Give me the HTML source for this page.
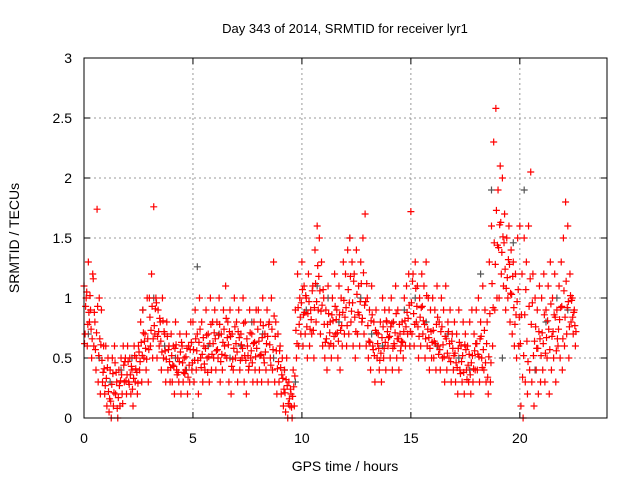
<!DOCTYPE html>
<html><head><meta charset="utf-8"><style>
body{margin:0;background:#fff}
svg{display:block;font-family:"Liberation Sans",sans-serif}
</style></head><body>
<svg id="chart" width="640" height="480">
<rect width="640" height="480" fill="#fff"/>
<text x="345" y="33" font-size="13" text-anchor="middle">Day 343 of 2014, SRMTID for receiver lyr1</text>
<text x="345" y="471" font-size="14" text-anchor="middle">GPS time / hours</text>
<text transform="translate(19,238) rotate(-90)" font-size="14" text-anchor="middle">SRMTID / TECUs</text>
<g id="grid"></g><g id="ticks"></g><g id="pts"></g>
<rect x="84" y="58" width="523" height="360" fill="none" stroke="#000"/>
</svg>
<script>
const xTicks=[0,5,10,15,20];
const yTicks=[0,0.5,1,1.5,2,2.5,3];
const yTickLabels=["0","0.5","1","1.5","2","2.5","3"];
const redStep=0.1;
const redHigh=[1.1,1.0,1.3,0.9,1.2,0.8,1.74,1.0,0.9,0.6,
0.6,0.5,0.4,0.5,0.6,0.3,0.4,0.5,0.6,0.5,
0.6,0.5,0.4,0.6,0.5,0.6,0.8,0.9,0.7,1.0,
1.0,1.2,1.76,1.0,0.9,0.8,1.0,0.7,0.8,0.6,
0.7,0.6,0.8,0.5,0.7,0.6,0.5,0.7,0.6,0.8,
0.8,0.9,0.7,1.0,0.8,0.6,0.9,0.7,1.0,0.8,
0.9,0.8,1.0,0.7,0.9,1.1,0.8,0.9,0.7,1.0,
0.8,0.9,0.7,1.0,0.8,0.6,0.9,0.7,0.8,0.9,
0.9,0.8,1.0,0.7,0.9,0.8,1.0,1.3,0.8,0.7,
0.6,0.5,0.4,0.5,0.3,0.2,0.4,0.9,1.2,1.0,
1.3,1.1,1.0,1.2,0.9,1.1,1.4,1.6,1.5,1.3,
1.0,0.9,1.1,0.8,1.0,1.2,0.9,1.1,1.0,1.3,
1.2,1.4,1.5,1.3,1.2,1.4,1.1,1.3,1.5,1.7,
1.0,0.9,1.1,0.8,0.9,0.7,0.8,1.0,0.9,0.8,
0.9,1.0,0.8,1.1,0.9,0.7,0.8,1.0,1.1,1.2,
1.72,1.2,1.3,1.1,1.0,1.2,1.1,1.3,1.0,0.9,
1.0,0.9,1.1,0.8,1.0,0.9,1.1,0.8,0.9,0.7,
0.8,0.7,0.9,0.6,0.8,0.7,0.6,0.8,0.9,0.7,
0.9,1.0,0.8,1.1,0.9,0.8,1.3,1.6,2.3,2.58,
1.9,2.1,2.0,1.7,1.5,1.6,1.4,1.3,1.2,1.5,
1.6,1.2,1.5,1.3,1.6,2.05,1.2,1.0,0.9,1.1,
1.0,1.2,0.9,1.1,1.3,1.0,1.2,0.9,1.1,1.3,
1.5,1.8,1.6,1.2,1.0,0.9];
const redLow=[0.7,0.6,0.8,0.5,0.6,0.4,0.3,0.2,0.3,0.2,
0.1,0.05,0.0,0.1,0.2,0.0,0.1,0.2,0.3,0.2,
0.3,0.2,0.1,0.3,0.2,0.4,0.3,0.5,0.4,0.3,
0.6,0.5,0.7,0.5,0.6,0.4,0.5,0.3,0.4,0.3,
0.3,0.2,0.4,0.3,0.2,0.3,0.4,0.2,0.3,0.4,
0.3,0.4,0.2,0.5,0.3,0.4,0.5,0.3,0.4,0.5,
0.4,0.5,0.3,0.4,0.6,0.5,0.3,0.2,0.4,0.5,
0.3,0.4,0.5,0.3,0.2,0.4,0.5,0.3,0.4,0.3,
0.4,0.3,0.5,0.4,0.3,0.5,0.4,0.3,0.2,0.3,
0.2,0.1,0.05,0.0,0.1,0.0,0.1,0.5,0.6,0.7,
0.6,0.7,0.5,0.6,0.7,0.5,0.8,0.9,0.7,0.6,
0.5,0.4,0.6,0.5,0.6,0.7,0.5,0.4,0.6,0.7,
0.6,0.7,0.8,0.6,0.5,0.7,0.6,0.8,0.7,0.6,
0.5,0.4,0.6,0.3,0.5,0.4,0.3,0.5,0.4,0.6,
0.5,0.4,0.6,0.5,0.4,0.6,0.5,0.6,0.7,0.6,
0.7,0.6,0.8,0.5,0.6,0.7,0.5,0.6,0.4,0.5,
0.5,0.4,0.6,0.4,0.5,0.3,0.4,0.5,0.3,0.4,
0.3,0.2,0.4,0.3,0.2,0.4,0.3,0.2,0.3,0.4,
0.4,0.3,0.5,0.4,0.3,0.2,0.3,0.6,0.9,1.0,
1.0,1.2,1.1,0.9,1.0,0.8,0.7,0.6,0.5,0.6,
0.1,0.0,0.3,0.2,0.4,0.3,0.1,0.4,0.2,0.3,
0.4,0.3,0.5,0.2,0.4,0.5,0.3,0.6,0.5,0.4,
0.6,0.7,0.5,0.8,0.7,0.6];
const redMidA=[0.62,1.05,0.88,0.74,1.16,0.57,0.93,0.66,0.48,0.41,
0.33,0.22,0.14,0.37,0.46,0.08,0.27,0.36,0.44,0.31,
0.47,0.36,0.24,0.52,0.38,0.55,0.63,0.71,0.58,0.66,
0.84,0.93,0.77,0.96,0.72,0.64,0.81,0.56,0.68,0.47,
0.52,0.43,0.61,0.38,0.55,0.46,0.37,0.58,0.44,0.63,
0.57,0.66,0.48,0.74,0.53,0.45,0.69,0.51,0.78,0.62,
0.66,0.57,0.78,0.53,0.74,0.83,0.61,0.68,0.49,0.76,
0.55,0.67,0.61,0.79,0.48,0.52,0.71,0.46,0.63,0.58,
0.64,0.53,0.77,0.55,0.68,0.61,0.74,0.85,0.56,0.47,
0.42,0.33,0.21,0.27,0.16,0.09,0.26,0.73,0.92,0.84,
1.07,0.88,0.76,0.97,0.82,0.73,1.12,1.27,1.06,0.94,
0.78,0.66,0.87,0.62,0.81,0.93,0.71,0.86,0.77,0.98,
0.92,1.07,1.18,0.96,0.84,1.03,0.86,1.12,1.21,0.97,
0.77,0.63,0.86,0.52,0.71,0.58,0.54,0.76,0.63,0.72,
0.68,0.79,0.62,0.87,0.66,0.56,0.63,0.81,0.88,0.94,
0.96,0.87,1.08,0.76,0.84,0.93,0.78,1.02,0.67,0.72,
0.73,0.62,0.84,0.57,0.76,0.51,0.66,0.72,0.47,0.58,
0.54,0.42,0.63,0.47,0.38,0.57,0.44,0.36,0.52,0.56,
0.62,0.51,0.68,0.57,0.46,0.34,0.87,1.12,1.46,1.73,
1.42,1.63,1.51,1.24,1.17,1.28,1.03,0.92,0.86,1.07,
0.62,0.34,0.86,0.64,0.93,0.78,0.52,0.76,0.58,0.66,
0.71,0.86,0.67,0.74,0.95,0.72,0.84,0.66,0.82,0.93,
1.06,1.14,0.97,1.02,0.84,0.77];
const redMidB=[0.93,0.78,1.02,0.66,0.88,0.71,0.52,0.61,0.38,0.27,
0.42,0.16,0.28,0.21,0.38,0.17,0.31,0.12,0.47,0.36,
0.28,0.43,0.33,0.41,0.29,0.47,0.52,0.64,0.49,0.57,
0.73,0.66,0.91,0.68,0.83,0.55,0.72,0.49,0.57,0.42,
0.44,0.58,0.36,0.47,0.63,0.38,0.51,0.34,0.57,0.46,
0.48,0.56,0.63,0.42,0.67,0.58,0.38,0.62,0.53,0.71,
0.56,0.69,0.47,0.63,0.52,0.67,0.72,0.43,0.58,0.62,
0.72,0.48,0.58,0.52,0.66,0.43,0.56,0.62,0.51,0.74,
0.52,0.67,0.46,0.62,0.78,0.44,0.57,0.68,0.41,0.56,
0.36,0.24,0.32,0.12,0.24,0.18,0.35,0.62,0.78,0.96,
0.86,1.02,0.87,0.74,1.06,0.92,0.97,1.18,0.89,1.07,
0.63,0.78,0.71,0.86,0.68,0.82,0.64,0.73,0.88,0.84,
0.77,0.96,0.89,1.14,0.72,0.88,0.97,0.83,0.94,1.12,
0.64,0.81,0.57,0.73,0.62,0.48,0.67,0.58,0.81,0.67,
0.76,0.58,0.71,0.66,0.78,0.64,0.72,0.76,0.83,0.72,
1.14,0.78,0.93,0.68,0.92,0.81,0.66,0.74,0.58,0.63,
0.64,0.78,0.53,0.72,0.61,0.68,0.54,0.62,0.64,0.52,
0.46,0.58,0.37,0.52,0.61,0.32,0.53,0.46,0.41,0.62,
0.53,0.66,0.42,0.73,0.62,0.51,0.46,0.92,1.28,1.44,
1.61,1.38,1.46,1.08,1.32,1.04,1.18,0.78,0.97,0.84,
0.86,0.52,1.07,0.47,1.16,0.96,0.64,0.58,0.72,0.52,
0.62,0.54,0.81,0.57,0.68,0.86,0.56,0.74,0.92,0.66,
0.84,0.92,0.76,0.98,0.88,0.72];
const grayStep=0.5;
const grayVals=[0.7,0.5,0.3,0.4,0.5,0.9,1.0,0.6,0.5,0.4,1.26,0.6,0.7,0.5,0.6,0.8,0.7,0.5,0.4,0.3,0.9,1.1,1.0,0.8,1.5,1.0,0.7,0.6,0.8,0.9,1.0,0.8,0.6,0.7,0.5,0.4,1.2,1.9,0.5,1.46,1.9,0.4,0.8,1.0,0.9];

const X0=84,X1=607,Y0=418,Y1=58,XMAX=24,YMAX=3;
const xs=v=>X0+v/XMAX*(X1-X0);
const ys=v=>Y0-v/YMAX*(Y0-Y1);
const NS="http://www.w3.org/2000/svg";
function mk(tag,parent,attrs){const e=document.createElementNS(NS,tag);for(const k in attrs)e.setAttribute(k,attrs[k]);parent.appendChild(e);return e;}
const grid=document.getElementById('grid'),ticks=document.getElementById('ticks'),pts=document.getElementById('pts');
xTicks.forEach(t=>{const x=xs(t);
 if(t>0){const g=mk('line',grid,{x1:x,x2:x,y1:Y1,y2:Y0,stroke:'#999','stroke-dasharray':'2,3'});
 
 }
 mk('line',ticks,{x1:x,x2:x,y1:Y0,y2:Y0-6,stroke:'#000'});
 mk('line',ticks,{x1:x,x2:x,y1:Y1,y2:Y1+6,stroke:'#000'});
 const l=mk('text',ticks,{x:x,y:443,'font-size':14,'text-anchor':'middle'});l.textContent=t;
 
 
});
yTicks.forEach((t,i)=>{const y=ys(t);
 if(t>0&&t<YMAX){const g=mk('line',grid,{x1:X0,x2:X1,y1:y,y2:y,stroke:'#999','stroke-dasharray':'2,3'});
 
 }
 mk('line',ticks,{x1:X0,x2:X0+6,y1:y,y2:y,stroke:'#000'});
 mk('line',ticks,{x1:X1,x2:X1-6,y1:y,y2:y,stroke:'#000'});
 const l=mk('text',ticks,{x:72,y:y+5,'font-size':14,'text-anchor':'end'});l.textContent=yTickLabels[i];
 
 
});
function plus(v,t,col,name){const x=xs(t),y=ys(v);
 const p=mk('path',pts,{d:`M${x-3.5},${y}h7M${x},${y-3.5}v7`,stroke:col,'stroke-width':1.2,fill:'none'});
 
 }
grayVals.forEach((v,i)=>plus(v,i*grayStep+0.2,'#555','gray-point'));
redHigh.forEach((v,i)=>plus(v,i*redStep,'#f00','red-point'));
redLow.forEach((v,i)=>plus(v,i*redStep+0.05,'#f00','red-point'));
redMidA.forEach((v,i)=>plus(v,i*redStep+0.025,'#f00','red-point'));
redMidB.forEach((v,i)=>plus(v,i*redStep+0.075,'#f00','red-point'));
</script>
</body></html>
